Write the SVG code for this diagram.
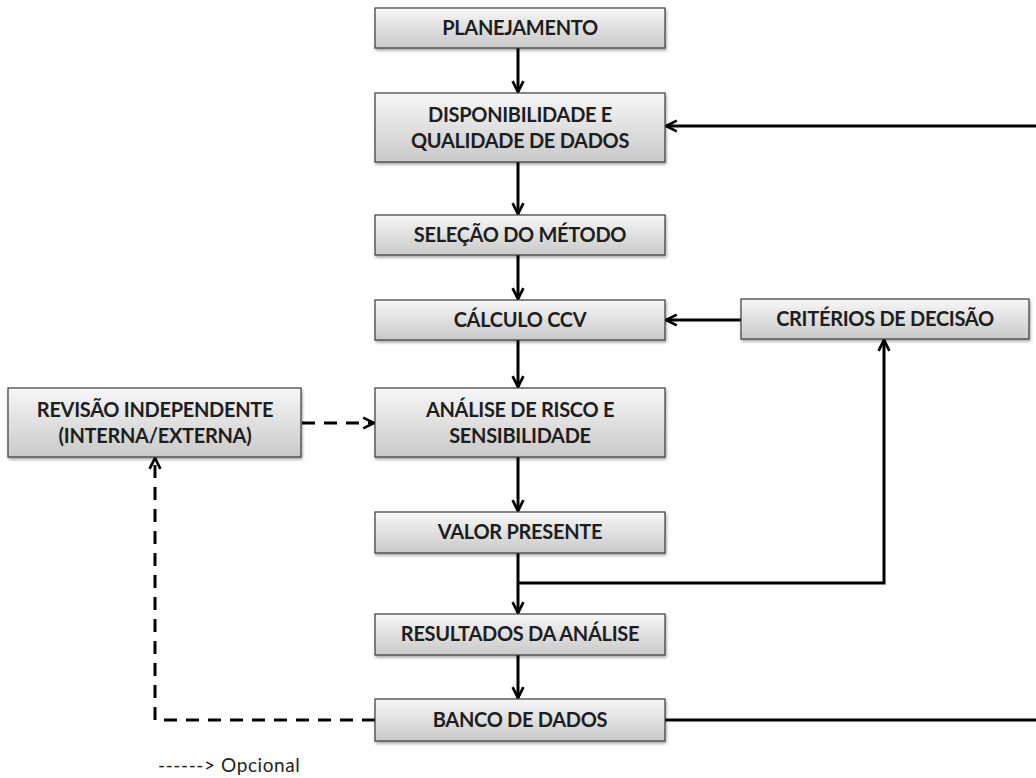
<svg xmlns="http://www.w3.org/2000/svg" width="1036" height="778" viewBox="0 0 1036 778">
<style>
.box{fill:url(#g);stroke:#3a3a3a;stroke-width:1.2;filter:url(#sh)}
.t{font-family:Lato,"Open Sans","Liberation Sans",sans-serif;font-weight:bold;font-size:20px;fill:#1e1e1e;text-anchor:middle;letter-spacing:-0.3px}
.c{fill:none;stroke:#000;stroke-width:3}
.d{fill:none;stroke:#000;stroke-width:3;stroke-dasharray:13,9}
</style>
<defs>
<linearGradient id="g" x1="0" y1="0" x2="0" y2="1">
<stop offset="0" stop-color="#f7f7f7"/>
<stop offset="1" stop-color="#c9c9c9"/>
</linearGradient>
<filter id="sh" x="-5%" y="-20%" width="110%" height="150%">
<feDropShadow dx="1" dy="2" stdDeviation="1.5" flood-color="#000" flood-opacity="0.35"/>
</filter>
<marker id="a" viewBox="0 0 10 10" refX="9" refY="5" markerWidth="4.5" markerHeight="4.5" orient="auto" markerUnits="strokeWidth">
<path d="M1,1 L9,5 L1,9" fill="none" stroke="#000" stroke-width="2"/>
</marker>
</defs>
<g id="connectors">
<line class="c" x1="518" y1="48" x2="518" y2="92" marker-end="url(#a)"/>
<line class="c" x1="518" y1="162" x2="518" y2="214" marker-end="url(#a)"/>
<line class="c" x1="518" y1="255" x2="518" y2="299" marker-end="url(#a)"/>
<line class="c" x1="518" y1="340" x2="518" y2="387" marker-end="url(#a)"/>
<line class="c" x1="518" y1="457" x2="518" y2="511" marker-end="url(#a)"/>
<line class="c" x1="518" y1="553" x2="518" y2="613" marker-end="url(#a)"/>
<line class="c" x1="518" y1="655" x2="518" y2="698" marker-end="url(#a)"/>
<line class="c" x1="741" y1="320" x2="666" y2="320" marker-end="url(#a)"/>
<polyline class="c" points="518,583 884,583 884,340" marker-end="url(#a)"/>
<polyline class="c" points="665,720 1040,720 1040,126 666,126" marker-end="url(#a)"/>
<polyline class="d" points="375,720 155,720 155,458" marker-end="url(#a)"/>
<line class="d" x1="302" y1="423" x2="374" y2="423" marker-end="url(#a)"/>
</g>
<g id="n1"><rect class="box" x="375" y="8" width="290" height="40"/><text class="t" x="520" y="35">PLANEJAMENTO</text></g>
<g id="n2"><rect class="box" x="375" y="93" width="290" height="69"/><text class="t" x="520" y="122">DISPONIBILIDADE E</text><text class="t" x="520" y="148">QUALIDADE DE DADOS</text></g>
<g id="n3"><rect class="box" x="375" y="215" width="290" height="40"/><text class="t" x="520" y="242">SELEÇÃO DO MÉTODO</text></g>
<g id="n4"><rect class="box" x="375" y="300" width="290" height="40"/><text class="t" x="520" y="327">CÁLCULO CCV</text></g>
<g id="n5"><rect class="box" x="741" y="299" width="288" height="40"/><text class="t" x="885" y="326">CRITÉRIOS DE DECISÃO</text></g>
<g id="n6"><rect class="box" x="375" y="388" width="290" height="69"/><text class="t" x="520" y="417">ANÁLISE DE RISCO E</text><text class="t" x="520" y="443">SENSIBILIDADE</text></g>
<g id="n7"><rect class="box" x="8" y="388" width="293" height="69"/><text class="t" x="155" y="417">REVISÃO INDEPENDENTE</text><text class="t" x="155" y="443">(INTERNA/EXTERNA)</text></g>
<g id="n8"><rect class="box" x="375" y="512" width="290" height="41"/><text class="t" x="520" y="539">VALOR PRESENTE</text></g>
<g id="n9"><rect class="box" x="375" y="614" width="290" height="41"/><text class="t" x="520" y="641">RESULTADOS DA ANÁLISE</text></g>
<g id="n10"><rect class="box" x="375" y="699" width="290" height="42"/><text class="t" x="520" y="727">BANCO DE DADOS</text></g>
<text x="158" y="772" style="font-family:Lato,'Open Sans','Liberation Sans',sans-serif;font-size:19px;letter-spacing:0.6px;fill:#222">------&gt; Opcional</text>
</svg>
